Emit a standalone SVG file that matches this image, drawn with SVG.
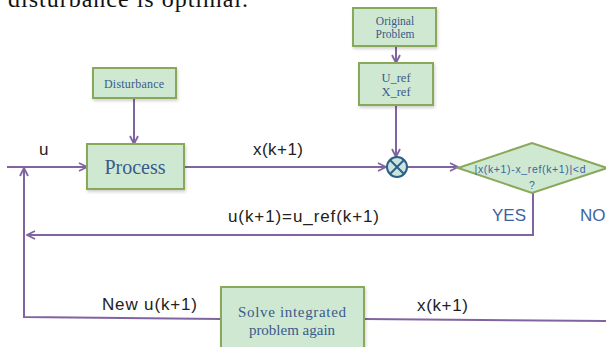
<svg xmlns="http://www.w3.org/2000/svg" width="606" height="347" viewBox="0 0 606 347">
<style>
.box{fill:#cfe8d1;stroke:#8aa85a;stroke-width:2}
.ln{fill:none;stroke:#8064a2;stroke-width:2}
.bt{font-family:"Liberation Serif",serif;fill:#3a5a8c;text-anchor:middle}
.lb{font-family:"Liberation Sans",sans-serif;fill:#222;font-size:17px}
.bl{font-family:"Liberation Sans",sans-serif;fill:#3c64a0}
</style>
<defs>
<marker id="ah" viewBox="0 0 10 10" refX="9" refY="5" markerWidth="10" markerHeight="10" markerUnits="userSpaceOnUse" orient="auto">
<path d="M1,1 L9,5 L1,9" fill="none" stroke="#8064a2" stroke-width="1.8"/>
</marker>
<filter id="sh" x="-10%" y="-10%" width="130%" height="140%">
<feDropShadow dx="1" dy="2" stdDeviation="1.5" flood-color="#000" flood-opacity="0.18"/>
</filter>
</defs>
<rect width="606" height="347" fill="#fff"/>
<text x="8" y="7" font-family="Liberation Serif,serif" font-size="24" fill="#111" textLength="240">disturbance is optimal.</text>

<g id="connectors">
<line class="ln" x1="7" y1="167" x2="87" y2="167" marker-end="url(#ah)"/>
<line class="ln" x1="134" y1="98" x2="134" y2="144" marker-end="url(#ah)"/>
<line class="ln" x1="396" y1="46" x2="396" y2="63" marker-end="url(#ah)"/>
<line class="ln" x1="396" y1="105" x2="396" y2="157" marker-end="url(#ah)"/>
<line class="ln" x1="184" y1="167" x2="386" y2="167" marker-end="url(#ah)"/>
<line class="ln" x1="407" y1="167" x2="458" y2="167" marker-end="url(#ah)"/>
<polyline class="ln" points="533,193 533,235 27,235" marker-end="url(#ah)"/>
<polyline class="ln" points="221,319 24,317 24,168" marker-end="url(#ah)"/>
<line class="ln" x1="364" y1="319" x2="606" y2="321"/>
<text class="lb" x="39" y="155">u</text>
<text class="lb" x="253" y="155" textLength="50">x(k+1)</text>
<text class="lb" x="228" y="222" textLength="151">u(k+1)=u_ref(k+1)</text>
<text class="lb" x="102" y="310" textLength="95">New u(k+1)</text>
<text class="lb" x="417" y="311" textLength="51">x(k+1)</text>
<text class="bl" x="492" y="221" font-size="17">YES</text>
<text class="bl" x="580" y="221" font-size="17">NO</text>
</g>

<g id="disturbance">
<rect class="box" x="93" y="68" width="83" height="30" filter="url(#sh)"/>
<text class="bt" x="134" y="88" font-size="12" textLength="60">Disturbance</text>
</g>

<g id="process">
<rect class="box" x="87" y="144" width="97" height="45" filter="url(#sh)"/>
<text class="bt" x="135" y="174" font-size="20">Process</text>
</g>

<g id="original-problem">
<rect class="box" x="353" y="8" width="83" height="38" filter="url(#sh)"/>
<text class="bt" x="395" y="25" font-size="11.5">Original</text>
<text class="bt" x="395" y="38" font-size="11.5">Problem</text>
</g>

<g id="refs">
<rect class="box" x="359" y="63" width="74" height="42" filter="url(#sh)"/>
<text class="bt" x="396" y="82" font-size="12.5">U_ref</text>
<text class="bt" x="396" y="96" font-size="12.5">X_ref</text>
</g>

<g id="comparator">
<circle cx="397" cy="167" r="10" fill="#c8e6de" stroke="#2f5f86" stroke-width="2"/>
<line x1="390" y1="160" x2="404" y2="174" stroke="#2f5f86" stroke-width="2"/>
<line x1="404" y1="160" x2="390" y2="174" stroke="#2f5f86" stroke-width="2"/>
</g>

<g id="decision">
<polygon class="box" points="458,168 532,143 607,168 532,193"/>
<text class="bl" x="530" y="173" font-size="10.5" text-anchor="middle" textLength="111">|x(k+1)-x_ref(k+1)|&lt;d</text>
<text class="bl" x="532" y="189" font-size="10.5" text-anchor="middle">?</text>
</g>

<g id="solve">
<rect class="box" x="221" y="287" width="143" height="70" filter="url(#sh)"/>
<text class="bt" x="292" y="317" font-size="15" textLength="108">Solve integrated</text>
<text class="bt" x="292" y="335" font-size="15">problem again</text>
</g>
</svg>
